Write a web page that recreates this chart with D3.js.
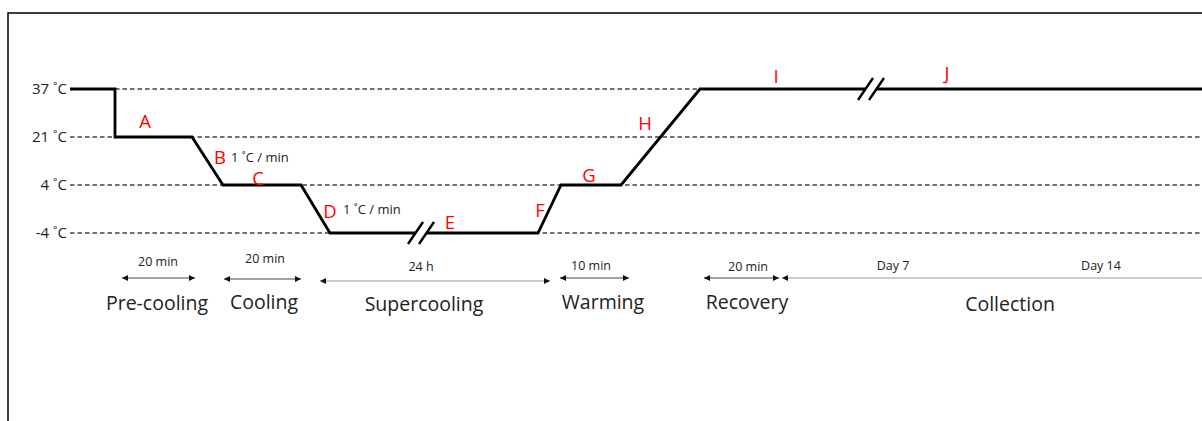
<!DOCTYPE html>
<html>
<head>
<meta charset="utf-8">
<script src="https://cdn.jsdelivr.net/npm/d3@7"></script>
<style>
  body { margin: 0; background: #fff; }
  svg { display: block; font-family: "Open Sans", sans-serif; }
</style>
</head>
<body>
<script>
// Temperature levels of the protocol
const levels = [37, 21, 4, -4];
const levelLabels = ["37 ˚C", "21 ˚C", "4 ˚C", "-4 ˚C"];

// Temperature profile (schematic time units, not to scale)
const profileTime = [0, 4.5, 4.5, 12.2, 15.3, 23.1, 26.0, 46.8, 49.1, 55.1, 63.0, 113.2];
const profileTemp = [37, 37, 21, 21, 4, 4, -4, -4, 4, 4, 37, 37];

// Axis breaks on the long holds
const breakTimes = [35.1, 80.1];
const breakTemps = [-4, 37];

// Step letters along the profile
const stepLetters = ["A", "B", "C", "D", "E", "F", "G", "H", "I", "J"];
const stepTime = [7.5, 15.0, 18.8, 26.0, 38.0, 47.0, 51.9, 57.5, 70.6, 87.7];
const stepLevel = [21, 21, 4, -4, -4, -4, 4, 21, 37, 37];

// Cooling rates
const rateLabels = ["1 ˚C / min", "1 ˚C / min"];
const rateTime = [16.1, 27.3];
const rateLevel = [21, -4];

// Phases below the profile
const phases = ["Pre-cooling", "Cooling", "Supercooling", "Warming", "Recovery", "Collection"];
const phaseDurations = ["20 min", "20 min", "24 h", "10 min", "20 min", ""];
const phaseStart = [5.2, 15.4, 25.0, 49.0, 63.4, 71.2];
const phaseEnd = [12.5, 23.1, 48.0, 55.9, 70.9, 113.2];
const phaseDurTime = [8.8, 19.5, 35.1, 52.1, 67.8, 0];
const phaseLabelTime = [8.7, 19.4, 35.4, 53.3, 67.7, 94.0];
const collectionDays = ["Day 7", "Day 14"];
const collectionDayTime = [82.3, 103.1];

const W = 1202, H = 421;
const svg = d3.select("body").append("svg").attr("width", W).attr("height", H);

const x = d3.scaleLinear().domain([0, 113.2]).range([70, 1202]);
const y = d3.scalePoint().domain(levels).range([89, 233]);

// frame
svg.append("path")
  .attr("d", `M8,${H} L8,13 L${W},13`)
  .attr("fill", "none").attr("stroke", "#000").attr("stroke-width", 1.5);

// dashed reference lines
svg.append("g").selectAll("line").data(levels).join("line")
  .attr("x1", x(0)).attr("x2", W)
  .attr("y1", d => y(d)).attr("y2", d => y(d))
  .attr("stroke", "#444").attr("stroke-width", 1.4)
  .attr("stroke-dasharray", "4.5,3");

// level labels
svg.append("g").selectAll("text").data(levels).join("text")
  .attr("x", x(0) - 3).attr("y", d => y(d))
  .attr("dy", "0.36em")
  .attr("text-anchor", "end")
  .attr("font-size", 15).attr("fill", "#222")
  .text((d, i) => levelLabels[i]);

// temperature profile
const line = d3.line().x(d => x(d[0])).y(d => y(d[1]));
svg.append("path")
  .datum(profileTime.map((t, i) => [t, profileTemp[i]]))
  .attr("d", line)
  .attr("fill", "none").attr("stroke", "#000")
  .attr("stroke-width", 2.8).attr("stroke-linejoin", "miter");

// axis breaks
const brk = svg.append("g");
breakTimes.forEach((t, i) => {
  const cx = x(t), cy = y(breakTemps[i]);
  brk.append("line")
    .attr("x1", cx - 5).attr("x2", cx + 5).attr("y1", cy).attr("y2", cy)
    .attr("stroke", "#fff").attr("stroke-width", 5);
  [-5.5, 5.5].forEach(o => {
    brk.append("line")
      .attr("x1", cx + o - 7.5).attr("y1", cy + 11)
      .attr("x2", cx + o + 7.5).attr("y2", cy - 11)
      .attr("stroke", "#000").attr("stroke-width", 2.4);
  });
});

// step letters
const letterDy = [-16, 20, -7, -22, -11, -23, -10, -14, -13, -16];
svg.append("g").selectAll("text").data(stepLetters).join("text")
  .attr("x", (d, i) => x(stepTime[i]))
  .attr("y", (d, i) => y(stepLevel[i]) + letterDy[i])
  .attr("dy", "0.36em")
  .attr("text-anchor", "middle")
  .attr("font-size", 18.5).attr("fill", "#f00")
  .text(d => d);

// cooling rates
const rateDy = [20, -24];
svg.append("g").selectAll("text").data(rateLabels).join("text")
  .attr("x", (d, i) => x(rateTime[i]))
  .attr("y", (d, i) => y(rateLevel[i]) + rateDy[i])
  .attr("dy", "0.36em")
  .attr("font-size", 13).attr("fill", "#222")
  .text(d => d);

// arrowheads
const defs = svg.append("defs");
["start", "end"].forEach(k => {
  defs.append("marker")
    .attr("id", "arr-" + k)
    .attr("viewBox", "0 0 10 10").attr("refX", k === "end" ? 10 : 0).attr("refY", 5)
    .attr("markerUnits", "userSpaceOnUse")
    .attr("markerWidth", 7).attr("markerHeight", 6).attr("orient", "auto")
    .append("path")
    .attr("d", k === "end" ? "M0,0 L10,5 L0,10 Z" : "M10,0 L0,5 L10,10 Z")
    .attr("fill", "#111");
});

const arrowY = [278, 279, 281, 278, 278, 278];
const durY = [261, 258, 266, 265, 266, 265];
const labelY = [303, 302, 304, 302, 302, 304];

const ph = svg.append("g");
ph.selectAll("line").data(phases).join("line")
  .attr("x1", (d, i) => x(phaseStart[i])).attr("x2", (d, i) => x(phaseEnd[i]))
  .attr("y1", (d, i) => arrowY[i]).attr("y2", (d, i) => arrowY[i])
  .attr("stroke", (d, i) => (i === 2 || i === 5) ? "#999" : "#444")
  .attr("stroke-width", 1.2)
  .attr("marker-start", "url(#arr-start)")
  .attr("marker-end", (d, i) => i === 5 ? null : "url(#arr-end)");

ph.selectAll("text.dur").data(phaseDurations).join("text")
  .attr("class", "dur")
  .attr("x", (d, i) => x(phaseDurTime[i]))
  .attr("y", (d, i) => durY[i])
  .attr("dy", "0.36em")
  .attr("text-anchor", "middle")
  .attr("font-size", 12.5).attr("fill", "#222")
  .text(d => d);

ph.selectAll("text.day").data(collectionDays).join("text")
  .attr("class", "day")
  .attr("x", (d, i) => x(collectionDayTime[i]))
  .attr("y", 265)
  .attr("dy", "0.36em")
  .attr("text-anchor", "middle")
  .attr("font-size", 12.5).attr("fill", "#222")
  .text(d => d);

ph.selectAll("text.phase").data(phases).join("text")
  .attr("class", "phase")
  .attr("x", (d, i) => x(phaseLabelTime[i]))
  .attr("y", (d, i) => labelY[i])
  .attr("dy", "0.36em")
  .attr("text-anchor", "middle")
  .attr("font-size", 19.5).attr("fill", "#222")
  .text(d => d);
</script>
</body>
</html>
